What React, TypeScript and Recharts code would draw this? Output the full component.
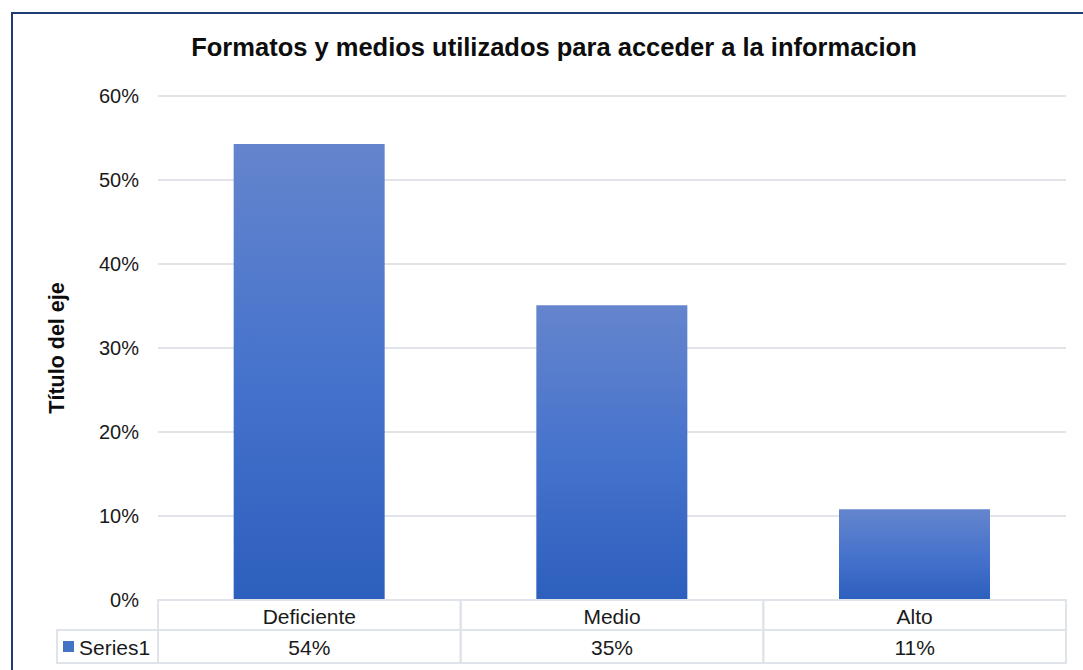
import React from "react";
import { BarChart, Bar, XAxis, YAxis, CartesianGrid } from "recharts";

const categories = ["Deficiente", "Medio", "Alto"];
const series1 = [0.543, 0.351, 0.108];
const yTicks = [0, 0.1, 0.2, 0.3, 0.4, 0.5, 0.6];
const seriesName = "Series1";
const title = "Formatos y medios utilizados para acceder a la informacion";
const yTitle = "Título del eje";

const W = 1083;
const H = 670;
const margin = { top: 96, right: 17, bottom: 0, left: 58 };
const yAxisWidth = 100;
const plotLeft = margin.left + yAxisWidth;
const plotWidth = W - plotLeft - margin.right;
const band = plotWidth / categories.length;
const FONT = "'Liberation Sans', Arial, sans-serif";
const tableLine = "#dfe3ea";

const data = categories.map((name, i) => ({ name, value: series1[i] }));
const pct = (v: number) => `${Math.round(v * 100)}%`;

// draws one column of the data table under each category
function TableTick(props: any) {
  const { x, y, payload, index } = props;
  const top = y;
  const left = x - band / 2;
  const row1 = 30;
  const row2 = 33;
  return (
    <g>
      <rect x={left} y={top} width={band} height={row1} fill="none" stroke={tableLine} strokeWidth={2} />
      <rect x={left} y={top + row1} width={band} height={row2} fill="none" stroke={tableLine} strokeWidth={2} />
      <text x={x} y={top + row1 / 2 + 1} textAnchor="middle" dominantBaseline="central" fontSize={21} fill="#1a1a1a" fontFamily={FONT}>
        {payload.value}
      </text>
      <text x={x} y={top + row1 + row2 / 2 + 1} textAnchor="middle" dominantBaseline="central" fontSize={21} fill="#1a1a1a" fontFamily={FONT}>
        {pct(series1[index])}
      </text>
      {index === 0 && (
        <g>
          <rect x={margin.left - 1} y={top + row1} width={left - margin.left + 1} height={row2} fill="none" stroke={tableLine} strokeWidth={2} />
          <rect x={63} y={top + row1 + 11} width={11} height={11} fill="#4472c4" />
          <text x={79} y={top + row1 + row2 / 2 + 1} dominantBaseline="central" fontSize={21} fill="#1a1a1a" fontFamily={FONT}>
            {seriesName}
          </text>
        </g>
      )}
    </g>
  );
}

export default function App() {
  return (
    <div style={{ position: "fixed", left: 0, top: 0, width: W, height: H, overflow: "hidden", background: "#fff" }}>
      <div
        style={{
          position: "absolute",
          left: 11,
          top: 12,
          width: W + 40,
          height: H + 40,
          borderLeft: "2px solid #1f3b73",
          borderTop: "2px solid #1f3b73",
        }}
      />
      <div
        style={{
          position: "absolute",
          left: 0,
          width: W,
          top: 33,
          textAlign: "center",
          fontFamily: FONT,
          fontWeight: "bold",
          fontSize: 25.5,
          color: "#0d0d0d",
          paddingLeft: 25,
          boxSizing: "border-box",
        }}
      >
        {title}
      </div>
      <BarChart width={W} height={H} data={data} margin={margin} barCategoryGap="25%">
        <defs>
          <linearGradient id="barGrad" x1="0" y1="0" x2="0" y2="1">
            <stop offset="0%" stopColor="#6585cd" />
            <stop offset="50%" stopColor="#4673cc" />
            <stop offset="100%" stopColor="#2d5fbe" />
          </linearGradient>
        </defs>
        <CartesianGrid vertical={false} stroke="#e1e4e9" strokeWidth={2} />
        <XAxis
          dataKey="name"
          height={70}
          axisLine={false}
          tickLine={false}
          tickSize={0}
          tickMargin={0}
          interval={0}
          tick={<TableTick />}
        />
        <YAxis
          width={yAxisWidth}
          domain={[0, 0.6]}
          ticks={yTicks}
          tickFormatter={pct}
          axisLine={false}
          tickLine={false}
          tickSize={0}
          tickMargin={19}
          tick={{ fontSize: 20, fill: "#1a1a1a", fontFamily: FONT }}
          label={{
            content: () => (
              <text
                x={57}
                y={348}
                transform="rotate(-90 57 348)"
                textAnchor="middle"
                dominantBaseline="central"
                fontSize={21.5}
                fontWeight="bold"
                fill="#0d0d0d"
                fontFamily={FONT}
              >
                {yTitle}
              </text>
            ),
          }}
        />
        <Bar dataKey="value" fill="url(#barGrad)" isAnimationActive={false} />
      </BarChart>
    </div>
  );
}
